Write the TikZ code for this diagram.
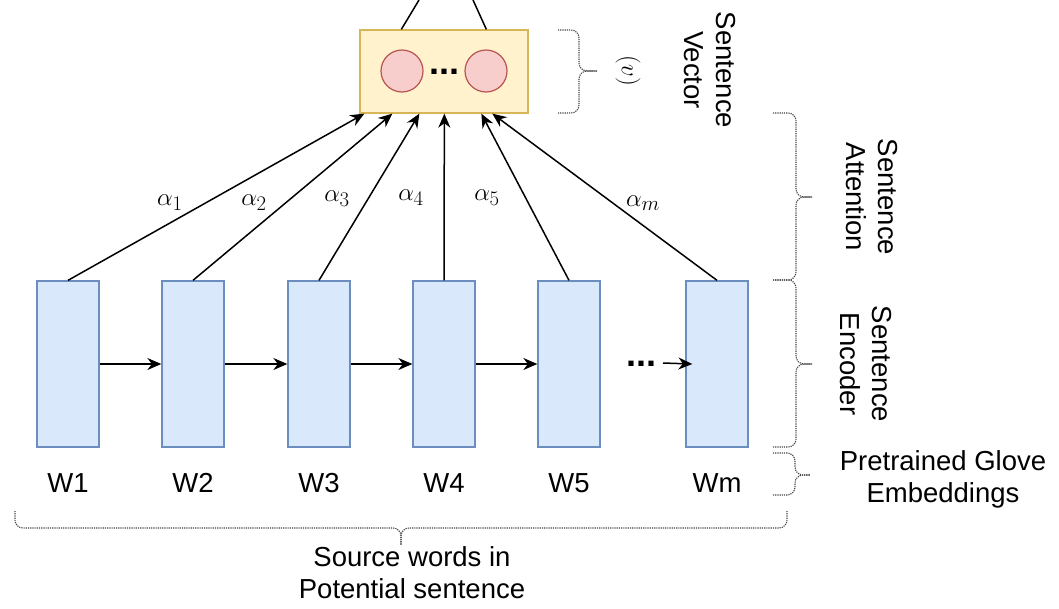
\documentclass[tikz,border=0pt]{standalone}
\usepackage{fontspec}
\setmainfont{Liberation Sans}
\usetikzlibrary{arrows.meta,calc}
\definecolor{wfill}{HTML}{DAE8FC}
\definecolor{wdraw}{HTML}{6C8EBF}
\definecolor{yfill}{HTML}{FFF2CC}
\definecolor{ydraw}{HTML}{D6B656}
\definecolor{rfill}{HTML}{F8CECC}
\definecolor{rdraw}{HTML}{B85450}
\definecolor{brc}{HTML}{444444}
\begin{document}
\begin{tikzpicture}[x=1pt,y=-1pt,
  wbox/.style={draw=wdraw,fill=wfill,line width=1.3pt,minimum width=62pt,minimum height=166pt,inner sep=0pt},
  vbox/.style={draw=ydraw,fill=yfill,line width=1.3pt,minimum width=168pt,minimum height=83pt,inner sep=0pt},
  circ/.style={circle,draw=rdraw,fill=rfill,line width=1.2pt,minimum size=42pt,inner sep=0pt},
  lbl/.style={font=\fontsize{27.5}{32}\selectfont,inner sep=0pt,align=center},
  alab/.style={font=\fontsize{30}{34}\selectfont,inner sep=0pt},
  dotsstyle/.style={font=\fontsize{36}{36}\selectfont\bfseries,inner sep=0pt,anchor=base},
  conn/.style={line width=1.5pt,black},
  arr/.style={conn,-{Stealth[length=14pt,width=12pt]}},
  brace/.style={draw=brc,line width=1.1pt,dash pattern=on 1.2pt off 1pt,rounded corners=8pt}
]
\useasboundingbox (0,0) rectangle (1059,608);

% word boxes
\node[wbox] (b1) at (68,364) {};
\node[wbox] (b2) at (193,364) {};
\node[wbox] (b3) at (319,364) {};
\node[wbox] (b4) at (444,364) {};
\node[wbox] (b5) at (569,364) {};
\node[wbox] (bm) at (717,364) {};

% word labels
\node[lbl] (w1) at (68,483) {W1};
\node[lbl] (w2) at (193,483) {W2};
\node[lbl] (w3) at (319,483) {W3};
\node[lbl] (w4) at (444,483) {W4};
\node[lbl] (w5) at (569,483) {W5};
\node[lbl] (wm) at (717,483) {Wm};

% sentence vector box
\node[vbox] (sv) at (444,71.5) {};
\node[circ] (c1) at (402,71) {};
\node[circ] (c2) at (486,71) {};
\node[dotsstyle] (d1) at (444,74) {...};

% top lines
\coordinate (u1) at (419,0);
\coordinate (u2) at (473,0);
\draw[conn] ([xshift=42pt]sv.north west) -- (u1);
\draw[conn] ([xshift=127pt]sv.north west) -- (u2);

% horizontal arrows
\draw[arr] (b1.east) -- (b2.west);
\draw[arr] (b2.east) -- (b3.west);
\draw[arr] (b3.east) -- (b4.west);
\draw[arr] (b4.east) -- (b5.west);
\node[dotsstyle] (d2) at (641,366) {...};
\coordinate (s6) at (663,363);
\draw[arr] (s6) -- ([xshift=7pt]bm.west);

% attention arrows
\draw[arr] (b1.north) -- ([xshift=5pt]sv.south west);
\draw[arr] (b2.north) -- ([xshift=33pt]sv.south west);
\draw[arr] (b3.north) -- ([xshift=60pt]sv.south west);
\draw[arr] (b4.north) -- ([xshift=85pt]sv.south west);
\draw[arr] (b5.north) -- ([xshift=122pt]sv.south west);
\draw[arr] (bm.north) -- ([xshift=133pt]sv.south west);

% alpha labels
\node[alab] (a1) at (170,203) {$\alpha_1$};
\node[alab] (a2) at (254,203) {$\alpha_2$};
\node[alab] (a3) at (337,199) {$\alpha_3$};
\node[alab] (a4) at (411,198) {$\alpha_4$};
\node[alab] (a5) at (487,198) {$\alpha_5$};
\node[alab] (am) at (643,203) {$\alpha_m$};

% braces
\draw[brace] (558,30) -- (579,30) -- (579,71) -- (597,71);
\draw[brace] (558,113) -- (579,113) -- (579,71) -- (597,71);

\draw[brace] (773,113) -- (796,113) -- (796,197) -- (812,197);
\draw[brace] (773,280) -- (796,280) -- (796,197) -- (812,197);

\draw[brace] (773,280) -- (796,280) -- (796,364) -- (812,364);
\draw[brace] (773,447) -- (796,447) -- (796,364) -- (812,364);

\draw[brace] (773,453) -- (795,453) -- (795,475) -- (810,475);
\draw[brace] (773,495) -- (795,495) -- (795,475) -- (810,475);

\draw[brace] (15,511) -- (15,528) -- (401,528) -- (401,545);
\draw[brace] (787,511) -- (787,528) -- (401,528) -- (401,545);

% brace labels
\node[alab,rotate=-90] (vlab) at (628,71) {$(v)$};
\node[lbl,rotate=-90] (svt) at (710,70) {Sentence\\Vector};
\node[lbl,rotate=-90] (sat) at (872,197) {Sentence\\Attention};
\node[lbl,rotate=-90] (set) at (866,364) {Sentence\\Encoder};
\node[lbl] (glv) at (943,479) {Pretrained Glove\\Embeddings};
\node[lbl] (src) at (412,573) {Source words in\\Potential sentence};
\end{tikzpicture}
\end{document}
